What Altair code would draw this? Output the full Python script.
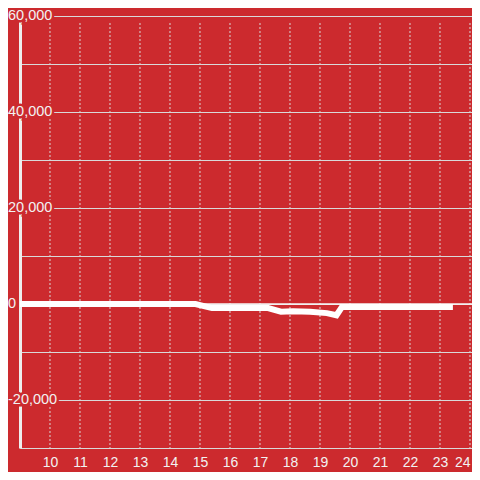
import altair as alt
import pandas as pd

# ---- data ----
hours = [9.0, 14.85, 15.4, 17.27, 17.7, 18.1, 18.67, 19.23, 19.55, 19.73, 23.43]
values = [0, 0, -850, -850, -1600, -1530, -1620, -1900, -2350, -650, -650]

x_ticks = list(range(10, 25))
y_ticks = list(range(-30000, 60001, 10000))
y_label_values = [60000, 40000, 20000, 0, -20000]
y_label_texts = ["60,000", "40,000", "20,000", "0", "-20,000"]

BG = "#CC2A2E"
GRID = "#d9d9d9"
TXT = "#f2f2f2"
FONT = "Liberation Sans"

df = pd.DataFrame({"hour": hours, "value": values})
xdf = pd.DataFrame({"hour": x_ticks})
ldf = pd.DataFrame({"value": y_label_values, "t": y_label_texts})
zdf = pd.DataFrame({"value": [0]})

xs = alt.Scale(domain=[9, 24.0667], nice=False, zero=False)
ys = alt.Scale(domain=[-30000, 60000], nice=False, zero=False)

xaxis = alt.Axis(
    values=x_ticks, grid=False, domain=True, domainColor=GRID,
    domainWidth=1, ticks=False, labelPadding=7, labelColor=TXT,
    labelFontSize=14, labelFont=FONT, title=None, format="d",
    labelFlush=3, labelOverlap=False,
)
yaxis = alt.Axis(
    values=y_ticks, grid=True, gridColor=GRID, gridWidth=1,
    labels=False, ticks=False, domain=True, domainColor="#eeeeee",
    domainWidth=3, title=None,
)

X = alt.X("hour:Q", scale=xs, axis=xaxis)
Y = alt.Y("value:Q", scale=ys, axis=yaxis)

line = alt.Chart(df).mark_line(
    color="white", strokeWidth=6, strokeCap="butt", clip=True
).encode(x=X, y=Y)

vgrid = alt.Chart(xdf).mark_rule(
    color=GRID, strokeWidth=1, strokeDash=[2, 2]
).encode(x=X, y=alt.value(7), y2=alt.value(432))

zero = alt.Chart(zdf).mark_rule(color="#f7f7f7", strokeWidth=1.5).encode(y=Y)

halo = alt.Chart(ldf).mark_text(
    align="left", baseline="middle", font=FONT, fontSize=14.5,
    fill=BG, stroke=BG, strokeWidth=5,
).encode(x=alt.value(-12), y=Y, text="t:N")

labels = alt.Chart(ldf).mark_text(
    align="left", baseline="middle", font=FONT, fontSize=14.5, fill=TXT,
).encode(x=alt.value(-12), y=Y, text="t:N")

chart = alt.layer(vgrid, zero, halo, labels, line).properties(
    width=452,
    height=432,
    autosize=alt.AutoSizeParams(type="none"),
    padding={"left": 12, "top": 8, "right": 0, "bottom": 24},
    background=BG,
).configure_view(stroke=None)

chart.save("out.html", embed_options={"renderer": "svg", "actions": False})
